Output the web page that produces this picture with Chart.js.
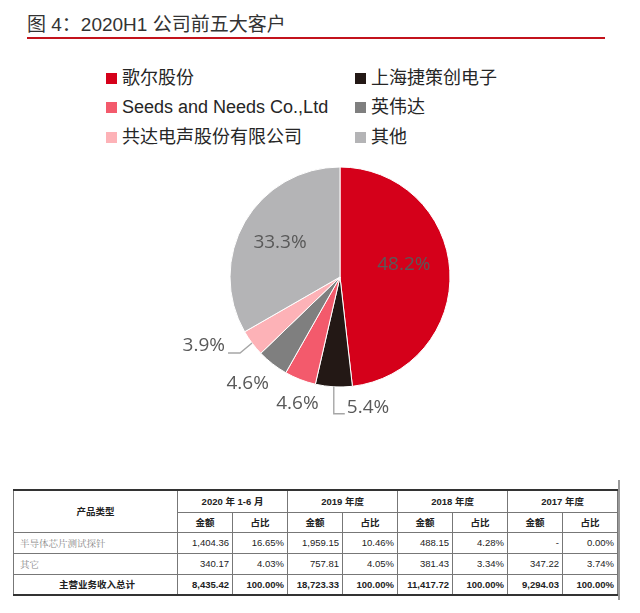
<!DOCTYPE html>
<html>
<head>
<meta charset="utf-8">
<script src="https://cdn.jsdelivr.net/npm/chart.js@4.4.0/dist/chart.umd.min.js"></script>
<style>
body{margin:0;width:640px;height:613px;background:#fff;position:relative;overflow:hidden;font-family:"Liberation Sans","Noto Sans CJK SC",sans-serif}
#title{position:absolute;left:27px;top:12px;font-size:19px;line-height:26px;color:#333;white-space:nowrap}
#rule{position:absolute;left:27px;top:37px;width:578px;height:2px;background:#c3131c}
.item{position:absolute;white-space:nowrap;font-size:18px;color:#262626;height:28px;line-height:28px}
.sw{display:inline-block;width:11px;height:11px;margin-right:5px;position:relative;top:0px}
#pie{position:absolute;left:100px;top:127px}
#tbl{position:absolute;left:13px;top:489px;border-collapse:collapse;table-layout:fixed;width:605px;font-size:9.5px;color:#222}
#tbl td{border:1px solid #777;padding:0 3px;text-align:right;overflow:hidden;white-space:nowrap}
#tbl tr.h td{font-weight:bold;text-align:center;font-size:9.5px}
#tbl tr:first-child td{border-top:2px solid #333}
#tbl tr:last-child td{border-bottom:2px solid #333;font-weight:bold}
#tbl td.name{text-align:left;color:#888;font-family:"Noto Serif CJK SC","Liberation Serif",serif;padding-left:6px}
#tbl tr:last-child td.name{text-align:center;color:#222;font-family:"Liberation Sans","Noto Sans CJK SC",sans-serif}
#edge{position:absolute;left:618px;top:480px;width:2px;height:120px;background:#9a9a9a}
</style>
</head>
<body>
<div id="title">图 4：2020H1 公司前五大客户</div>
<div id="rule"></div>
<div id="legend"></div>
<canvas id="pie" width="480" height="300"></canvas>
<table id="tbl"></table>
<div id="edge"></div>
<script>
// pie data
const customers = ['歌尔股份', '上海捷策创电子', 'Seeds and Needs Co.,Ltd', '英伟达', '共达电声股份有限公司', '其他']
const shares = [48.2, 5.4, 4.6, 4.6, 3.9, 33.3]
const colors = ['#d5001a', '#231815', '#f35a6c', '#7f7f7f', '#fdb2b7', '#b4b4b6']

// table data
const periods = ['2020 年 1-6 月', '2019 年度', '2018 年度', '2017 年度']
const products = ['半导体芯片测试探针', '其它', '主营业务收入总计']
const amounts = [
    [1404.36, 1959.15, 488.15, null],
    [340.17, 757.81, 381.43, 347.22],
    [8435.42, 18723.33, 11417.72, 9294.03]
]
const ratios = [
    [16.65, 10.46, 4.28, 0.00],
    [4.03, 4.05, 3.34, 3.74],
    [100, 100, 100, 100]
]

// legend, two columns
const legend = document.getElementById('legend')
const colX = [106, 355]
const rowY = [64, 93, 123]
customers.forEach((name, i) => {
    const el = document.createElement('div')
    el.className = 'item'
    el.style.left = colX[i % 2] + 'px'
    el.style.top = rowY[Math.floor(i / 2)] + 'px'
    el.innerHTML = '<span class="sw" style="background:' + colors[i] + '"></span>' + name
    legend.appendChild(el)
})

// how each percentage sits relative to its slice
const labelPlace = [
    {mode: 'in', r: 0.6, dx: -2, dy: -9},
    {mode: 'down'},
    {mode: 'out', r: 1.22, dx: 6, dy: 2},
    {mode: 'out', r: 1.28, dx: -6, dy: -5},
    {mode: 'left'},
    {mode: 'in', r: 0.63, dx: 0, dy: 0}
]

const sliceLabels = {
    id: 'sliceLabels',
    afterDatasetsDraw(chart) {
        const ctx = chart.ctx
        const arcs = chart.getDatasetMeta(0).data
        ctx.save()
        ctx.font = '19px "Open Sans"'
        ctx.fillStyle = '#595959'
        ctx.strokeStyle = '#a6a6a6'
        ctx.lineWidth = 1.4
        ctx.textBaseline = 'middle'
        arcs.forEach((arc, i) => {
            const p = arc.getProps(['x', 'y', 'startAngle', 'endAngle', 'outerRadius'], true)
            const mid = (p.startAngle + p.endAngle) / 2
            const R = p.outerRadius
            const ex = p.x + R * Math.cos(mid)
            const ey = p.y + R * Math.sin(mid)
            const text = shares[i].toFixed(1) + '%'
            const lp = labelPlace[i]
            if (lp.mode === 'in' || lp.mode === 'out') {
                ctx.textAlign = 'center'
                ctx.fillText(text, p.x + lp.r * R * Math.cos(mid) + lp.dx, p.y + lp.r * R * Math.sin(mid) + lp.dy)
            } else if (lp.mode === 'down') {
                ctx.beginPath()
                ctx.moveTo(ex, ey)
                ctx.lineTo(ex, ey + 27)
                ctx.lineTo(ex + 11, ey + 27)
                ctx.stroke()
                ctx.textAlign = 'left'
                ctx.fillText(text, ex + 13, ey + 21)
            } else {
                ctx.beginPath()
                ctx.moveTo(ex, ey)
                ctx.lineTo(ex - 12, ey + 10)
                ctx.lineTo(ex - 24, ey + 10)
                ctx.stroke()
                ctx.textAlign = 'right'
                ctx.fillText(text, ex - 27, ey + 3)
            }
        })
        ctx.restore()
    }
}

new Chart(document.getElementById('pie'), {
    type: 'pie',
    data: {
        labels: customers,
        datasets: [{
            data: shares,
            backgroundColor: colors,
            borderColor: '#ffffff',
            borderWidth: 1
        }]
    },
    options: {
        responsive: false,
        animation: false,
        radius: 110,
        plugins: {
            legend: {display: false},
            tooltip: {enabled: false}
        }
    },
    plugins: [sliceLabels]
})

// table
const fmt = v => v === null ? '-' : v.toLocaleString('en-US', {minimumFractionDigits: 2, maximumFractionDigits: 2})
let html = '<colgroup><col style="width:164px">' + '<col style="width:55px">'.repeat(8) + '</colgroup>'
html += '<tr class="h" style="height:22px"><td rowspan="2">产品类型</td>'
periods.forEach(p => { html += '<td colspan="2">' + p + '</td>' })
html += '</tr><tr class="h" style="height:20px">'
periods.forEach(() => { html += '<td>金额</td><td>占比</td>' })
html += '</tr>'
products.forEach((name, r) => {
    html += '<tr style="height:21px"><td class="name">' + name + '</td>'
    periods.forEach((p, c) => {
        html += '<td>' + fmt(amounts[r][c]) + '</td><td>' + ratios[r][c].toFixed(2) + '%</td>'
    })
    html += '</tr>'
})
document.getElementById('tbl').innerHTML = html
</script>
</body>
</html>
